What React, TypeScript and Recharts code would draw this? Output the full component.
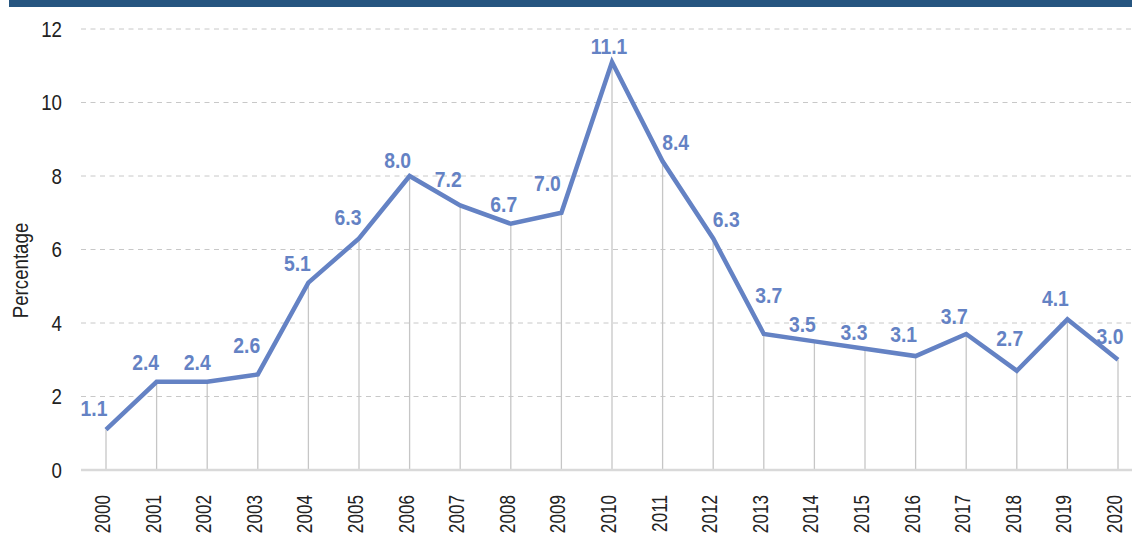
import { LineChart, Line, XAxis, YAxis, CartesianGrid, ReferenceLine, LabelList } from "recharts";

const years = [
  "2000", "2001", "2002", "2003", "2004", "2005", "2006", "2007", "2008", "2009", "2010",
  "2011", "2012", "2013", "2014", "2015", "2016", "2017", "2018", "2019", "2020",
];
const values = [1.1, 2.4, 2.4, 2.6, 5.1, 6.3, 8.0, 7.2, 6.7, 7.0, 11.1, 8.4, 6.3, 3.7, 3.5, 3.3, 3.1, 3.7, 2.7, 4.1, 3.0];
const yTicks = [0, 2, 4, 6, 8, 10, 12];

// label nudges (dx, dy) so numbers sit like in the original
const labelNudge = [
  [-12, -22], [-11, -20], [-10, -20], [-11, -29], [-11, -20], [-11, -22], [-12, -16],
  [-12, -26], [-7, -20], [-14, -30], [-3, -16], [13, -19], [13, -20], [5, -39],
  [-12, -17], [-11, -17], [-12, -22], [-12, -18], [-7, -33], [-12, -21], [-8, -24],
];

const data = years.map((year, i) => ({ year, value: values[i] }));

const BLUE = "#6482c4";
const FONT = "'Liberation Sans', Arial, sans-serif";
const SQUEEZE = 0.85; // no condensed font installed, so squash Arial a bit

// text condensed along its own direction
const Cond = ({ x, y, rotate = 0, squeeze = SQUEEZE, children, ...rest }: any) => (
  <text
    x={0}
    y={0}
    transform={`translate(${x},${y}) rotate(${rotate}) scale(${squeeze},1)`}
    fontFamily={FONT}
    {...rest}
  >
    {children}
  </text>
);

const renderLabel = (props: any) => {
  const { x, y, value, index } = props;
  const [dx, dy] = labelNudge[index] || [0, -20];
  return (
    <Cond
      x={x + dx}
      y={y + dy}
      squeeze={0.86}
      textAnchor="middle"
      dominantBaseline="central"
      fill={BLUE}
      fontWeight="bold"
      fontSize={22.5}
    >
      {Number(value).toFixed(1)}
    </Cond>
  );
};

const YearTick = (props: any) => {
  const { x, y, payload } = props;
  return (
    <Cond x={x + 4} y={y + 17} rotate={-90} squeeze={0.78} textAnchor="end" fill="#222" fontSize={22}>
      {payload.value}
    </Cond>
  );
};

const ValueTick = (props: any) => {
  const { x, y, payload } = props;
  return (
    <Cond x={x} y={y} textAnchor="end" dominantBaseline="central" fill="#222" fontSize={22}>
      {payload.value}
    </Cond>
  );
};

const YLabel = (props: any) => {
  const { viewBox } = props;
  const cx = viewBox.x + 20;
  const cy = viewBox.y + viewBox.height / 2 + 21;
  return (
    <Cond x={cx} y={cy} rotate={-90} textAnchor="middle" dominantBaseline="central" fill="#222" fontSize={22}>
      Percentage
    </Cond>
  );
};

export default function App() {
  return (
    <div style={{ position: "absolute", left: 0, top: 0, width: 1132, height: 533, background: "#fff", overflow: "hidden" }}>
      <div style={{ position: "absolute", left: 9, top: 0, width: 1123, height: 7, background: "#265580" }} />
      <LineChart width={1132} height={533} data={data} margin={{ top: 29, right: 0, bottom: 0, left: 0 }}>
        <CartesianGrid vertical={false} stroke="#c8c8c8" strokeDasharray="5 4.5" />
        <XAxis
          dataKey="year"
          height={63}
          padding={{ left: 25, right: 14 }}
          tickLine={false}
          axisLine={{ stroke: "#d9d9d9", strokeWidth: 2.5 }}
          tick={<YearTick />}
          interval={0}
        />
        <YAxis
          width={81}
          domain={[0, 12]}
          ticks={yTicks}
          axisLine={false}
          tickLine={false}
          tickMargin={13}
          tick={<ValueTick />}
          label={<YLabel />}
        />
        {data.map((d) => (
          <ReferenceLine
            key={d.year}
            segment={[{ x: d.year, y: 0 }, { x: d.year, y: d.value }]}
            stroke="#c6c6c6"
            strokeWidth={1.3}
          />
        ))}
        <Line
          dataKey="value"
          stroke={BLUE}
          strokeWidth={4.5}
          dot={false}
          isAnimationActive={false}
        >
          <LabelList dataKey="value" content={renderLabel} />
        </Line>
      </LineChart>
    </div>
  );
}
